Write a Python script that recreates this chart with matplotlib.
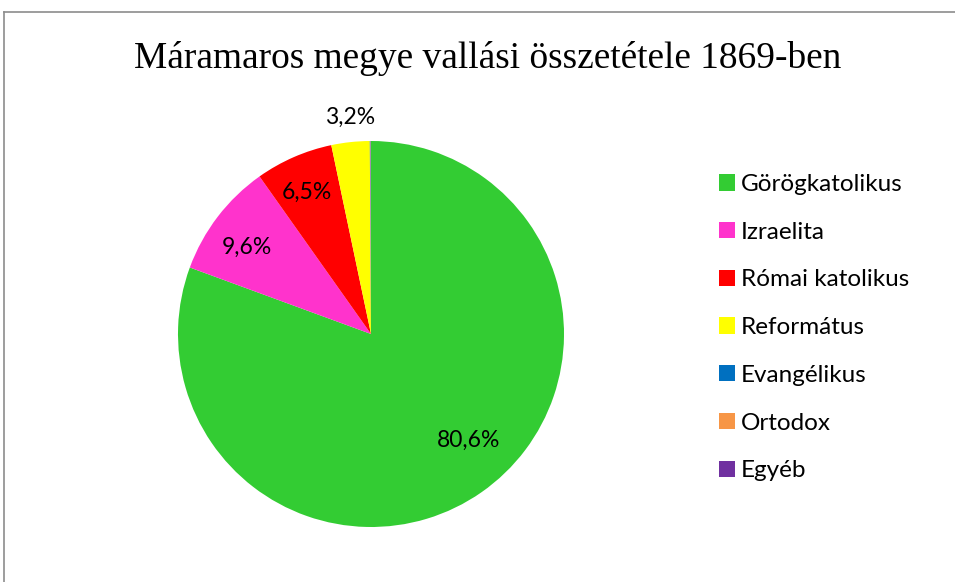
import matplotlib.pyplot as plt
from matplotlib.patches import Patch
from matplotlib.lines import Line2D

labels = ['Görögkatolikus', 'Izraelita', 'Római katolikus', 'Református',
          'Evangélikus', 'Ortodox', 'Egyéb']
values = [80.6, 9.6, 6.5, 3.2, 0.05, 0.03, 0.02]
colors = ['#33CC33', '#FF33CC', '#FF0000', '#FFFF00', '#0070C0', '#F79646', '#7030A0']
shown_pct = ['80,6%', '9,6%', '6,5%', '3,2%']
# where each percent label sits, in pie radius units
label_pos = [(0.508, -0.549), (-0.642, 0.451), (-0.332, 0.736), (-0.109, 1.124)]

W, H = 955, 582
fig = plt.figure(figsize=(W / 100, H / 100), dpi=100)

# chart frame (cut off on the right and bottom)
fig.add_artist(Line2D([4 / W, 4 / W], [0, 1 - 12 / H], color='#8c8c8c', lw=1.2))
fig.add_artist(Line2D([4 / W, 1], [1 - 12 / H, 1 - 12 / H], color='#8c8c8c', lw=1.2))

fig.text(488 / W, 1 - 59 / H, 'Máramaros megye vallási összetétele 1869-ben',
         family='Liberation Serif', fontsize=26.9, ha='center', va='center')

cx, cy, r = 371, 334, 193
ax = fig.add_axes([(cx - r) / W, (H - cy - r) / H, 2 * r / W, 2 * r / H])
wedges, _ = ax.pie(values, colors=colors, startangle=90, counterclock=False,
                   radius=1, wedgeprops=dict(linewidth=0))
ax.set_xlim(-1, 1)
ax.set_ylim(-1, 1)
ax.axis('off')

for txt, (x, y) in zip(shown_pct, label_pos):
    ax.text(x, y, txt, ha='center', va='center', fontsize=16.5, family='Lato',
            clip_on=False)

handles = [Patch(facecolor=c, edgecolor='none') for c in colors]
fig.legend(handles, labels, loc='upper left', bbox_to_anchor=(697 / W, 1 - 152 / H),
           frameon=False, prop={'family': 'Lato', 'size': 17.5},
           handlelength=0.66, handleheight=0.66, handletextpad=0.25,
           labelspacing=1.1)

fig.savefig('out.png', dpi=100)
